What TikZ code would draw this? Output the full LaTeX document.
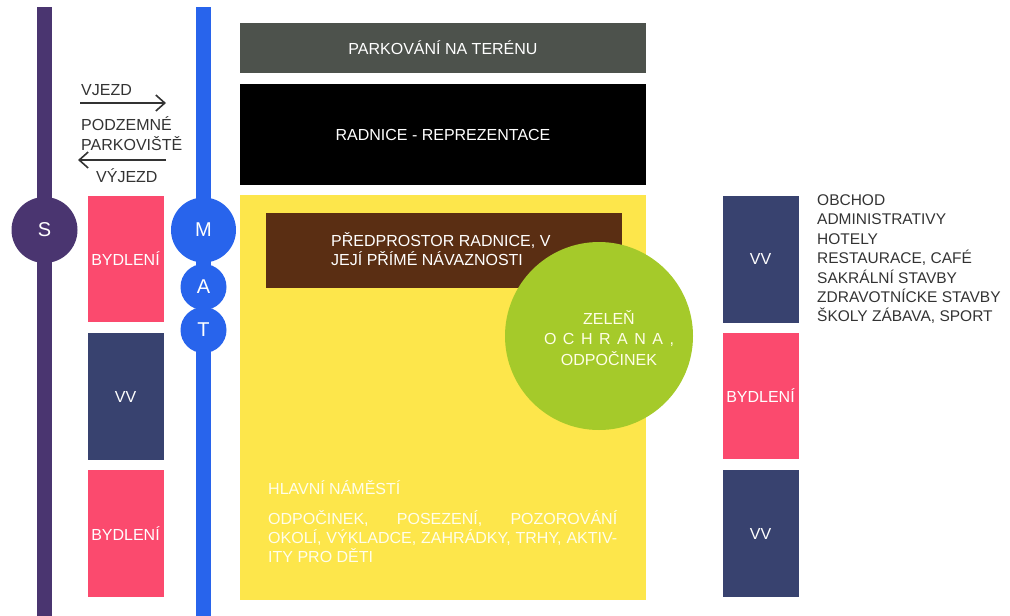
\documentclass[tikz,border=0pt]{standalone}
\usepackage{fontspec}
\setmainfont{Liberation Sans}
\usetikzlibrary{arrows.meta}
\definecolor{fialova}{HTML}{4A3570}
\definecolor{modra}{HTML}{2864EC}
\definecolor{seda}{HTML}{4D524C}
\definecolor{zluta}{HTML}{FDE64B}
\definecolor{hneda}{HTML}{5A2E13}
\definecolor{zelena}{HTML}{A5CA2A}
\definecolor{ruzova}{HTML}{FB4A6E}
\definecolor{tmavomodra}{HTML}{38426F}
\definecolor{textseda}{HTML}{333333}
\begin{document}
\begin{tikzpicture}[x=1pt, y=-1pt,
		blok/.style={rectangle, inner sep=0pt, text=white, font=\fontsize{16}{19}\selectfont},
		stanice/.style={circle, inner sep=0pt, text=white, font=\fontsize{20}{24}\selectfont},
		popis/.style={anchor=base west, inner sep=0pt, text=textseda, font=\fontsize{16}{19}\selectfont},
		sipka/.style={line width=1.6pt, textseda, -{Straight Barb[length=9pt, width=16pt, line width=1.6pt]}}]
		\useasboundingbox (0,0) rectangle (1010,616);
		% komunikace S a MAT
		\coordinate (S1) at (44.5,7);
		\coordinate (S2) at (44.5,616);
		\coordinate (M1) at (203.5,7);
		\coordinate (M2) at (203.5,616);
		\draw [fialova, line width=15pt] (S1)--(S2);
		\draw [modra, line width=15pt] (M1)--(M2);
		\node[stanice, fill=fialova, minimum size=66pt] (S) at (44.5,230) {S};
		\node[stanice, fill=modra, minimum size=65pt] (M) at (203.5,230) {M};
		\node[stanice, fill=modra, minimum size=46pt] (A) at (203.5,287) {A};
		\node[stanice, fill=modra, minimum size=46pt] (T) at (203.5,330) {T};
		% podzemni parkoviste
		\node[popis] (vjezd) at (81,95) {VJEZD};
		\node[popis] (podzemne) at (81,130) {PODZEMNÉ};
		\node[popis] (parkoviste) at (81,150) {PARKOVIŠTĚ};
		\node[popis] (vyjezd) at (96,182) {VÝJEZD};
		\coordinate (V1) at (80,103);
		\coordinate (V2) at (166,103);
		\coordinate (W1) at (166,160);
		\coordinate (W2) at (78,160);
		\draw [sipka] (V1)--(V2);
		\draw [sipka] (W1)--(W2);
		% levy pas
		\node[blok, fill=ruzova, minimum width=76pt, minimum height=126pt] (bydleniL1) at (125.5,259) {BYDLENÍ};
		\node[blok, fill=tmavomodra, minimum width=76pt, minimum height=127pt] (vvL) at (125.5,396.5) {VV};
		\node[blok, fill=ruzova, minimum width=76pt, minimum height=127pt] (bydleniL2) at (125.5,533.5) {BYDLENÍ};
		% radnice a namesti
		\node[blok, fill=seda, minimum width=406pt, minimum height=50pt] (parkovani) at (443,48) {PARKOVÁNÍ NA TERÉNU};
		\node[blok, fill=black, minimum width=406pt, minimum height=101pt] (radnice) at (443,134.5) {RADNICE - REPREZENTACE};
		\node[blok, fill=zluta, minimum width=406pt, minimum height=405pt] (namesti) at (443,397.5) {};
		\node[blok, fill=hneda, minimum width=356pt, minimum height=75pt] (predprostor) at (444,250.5) {};
		\node[blok, anchor=base west, align=left] (predprostortext) at (331,265) {PŘEDPROSTOR RADNICE, V\\JEJÍ PŘÍMÉ NÁVAZNOSTI};
		\node[blok, circle, fill=zelena, minimum size=188pt] (zelen) at (599,336) {};
		\node[blok, text=white!90!yellow, align=center, font=\fontsize{16}{20.5}\selectfont] (zelentext) at (609,338) {ZELEŇ\\\makebox[130pt][s]{O C H R A N A ,}\\ODPOČINEK};
		\node[blok, anchor=base west, align=left, text=white!92!yellow] (hlavni) at (268,494) {HLAVNÍ NÁMĚSTÍ};
		\node[blok, anchor=north west, align=left, text=white!92!yellow, font=\fontsize{16}{19}\selectfont] (aktivity) at (268,510) {\makebox[349pt][s]{ODPOČINEK, POSEZENÍ, POZOROVÁNÍ}\\\makebox[349pt][s]{OKOLÍ, VÝKLADCE, ZAHRÁDKY, TRHY, AKTIV-}\\ITY PRO DĚTI};
		% pravy pas
		\node[blok, fill=tmavomodra, minimum width=76pt, minimum height=127pt] (vvP1) at (760.5,259) {VV};
		\node[blok, fill=ruzova, minimum width=76pt, minimum height=126pt] (bydleniP) at (760.5,396) {BYDLENÍ};
		\node[blok, fill=tmavomodra, minimum width=76pt, minimum height=127pt] (vvP2) at (760.5,533.5) {VV};
		\foreach \txt [count=\i] in {OBCHOD, ADMINISTRATIVY, HOTELY, {RESTAURACE, CAFÉ}, SAKRÁLNÍ STAVBY, ZDRAVOTNÍCKE STAVBY, {ŠKOLY ZÁBAVA, SPORT}}
			\node[popis, font=\fontsize{15.5}{19}\selectfont] (funkce\i) at (817,186+19.4*\i) {\txt};
	\end{tikzpicture}
\end{document}
